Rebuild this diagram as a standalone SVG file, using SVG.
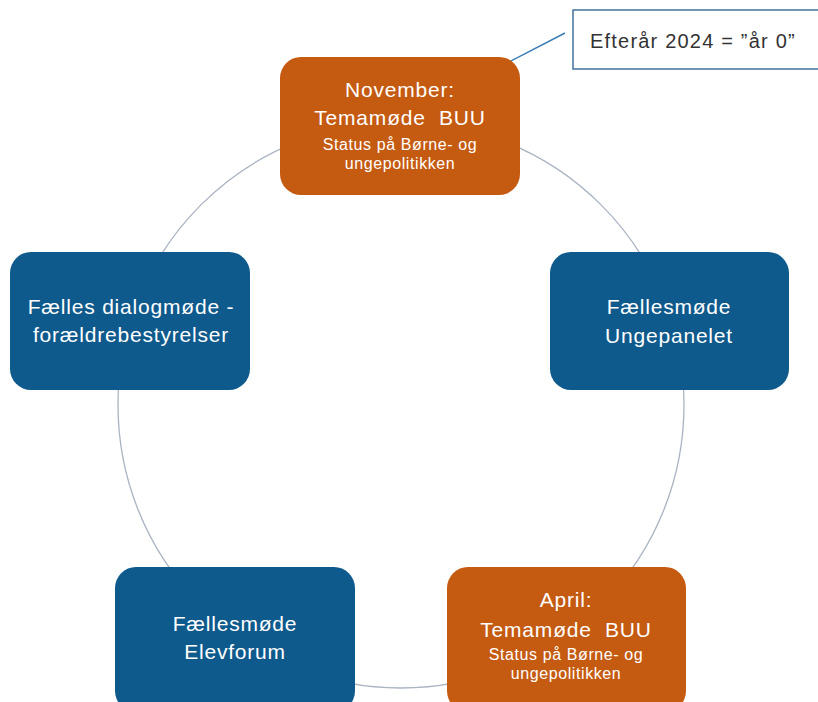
<svg xmlns="http://www.w3.org/2000/svg" width="818" height="702" viewBox="0 0 818 702">
<style>
.orange{fill:#C55A11;}
.blue{fill:#0F5A8C;}
.t{font-family:"Liberation Sans",Arial,sans-serif;fill:#fff;text-anchor:middle;white-space:pre;}
.big{font-size:21px;letter-spacing:0.8px;}
.small{font-size:16px;letter-spacing:0.6px;}
</style>
<rect width="818" height="702" fill="#fff"/>
<g id="connectors">
<circle cx="401" cy="405" r="283" fill="none" stroke="#A9B3C2" stroke-width="1.3"/>
<line x1="507" y1="63" x2="565" y2="33" stroke="#3A7DB5" stroke-width="1.5"/>
</g>
<g id="node-november">
<rect x="280" y="57" width="240" height="138" rx="21" class="orange"/>
<text class="t big" x="400" y="97">November:</text>
<text class="t big" x="400" y="125" xml:space="preserve">Temamøde  BUU</text>
<text class="t small" x="400" y="150">Status på Børne- og</text>
<text class="t small" x="400" y="169">ungepolitikken</text>
</g>
<g id="node-ungepanelet">
<rect x="550" y="252" width="239" height="138" rx="21" class="blue"/>
<text class="t big" x="669" y="314">Fællesmøde</text>
<text class="t big" x="669" y="343">Ungepanelet</text>
</g>
<g id="node-foraeldre">
<rect x="10" y="252" width="240" height="138" rx="21" class="blue"/>
<text class="t big" x="131" y="314">Fælles dialogmøde -</text>
<text class="t big" x="131" y="342">forældrebestyrelser</text>
</g>
<g id="node-elevforum">
<rect x="115" y="567" width="240" height="145" rx="21" class="blue"/>
<text class="t big" x="235" y="631">Fællesmøde</text>
<text class="t big" x="235" y="659">Elevforum</text>
</g>
<g id="node-april">
<rect x="447" y="567" width="239" height="145" rx="21" class="orange"/>
<text class="t big" x="566" y="607">April:</text>
<text class="t big" x="566" y="637" xml:space="preserve">Temamøde  BUU</text>
<text class="t small" x="566" y="660">Status på Børne- og</text>
<text class="t small" x="566" y="679">ungepolitikken</text>
</g>
<g id="callout">
<rect x="573" y="10" width="250" height="59" fill="#fff" stroke="#41719C" stroke-width="1.5"/>
<text x="590" y="48" font-family="Liberation Sans,Arial,sans-serif" font-size="20" letter-spacing="1.2" fill="#333">Efterår 2024 = ”år 0”</text>
</g>
</svg>
